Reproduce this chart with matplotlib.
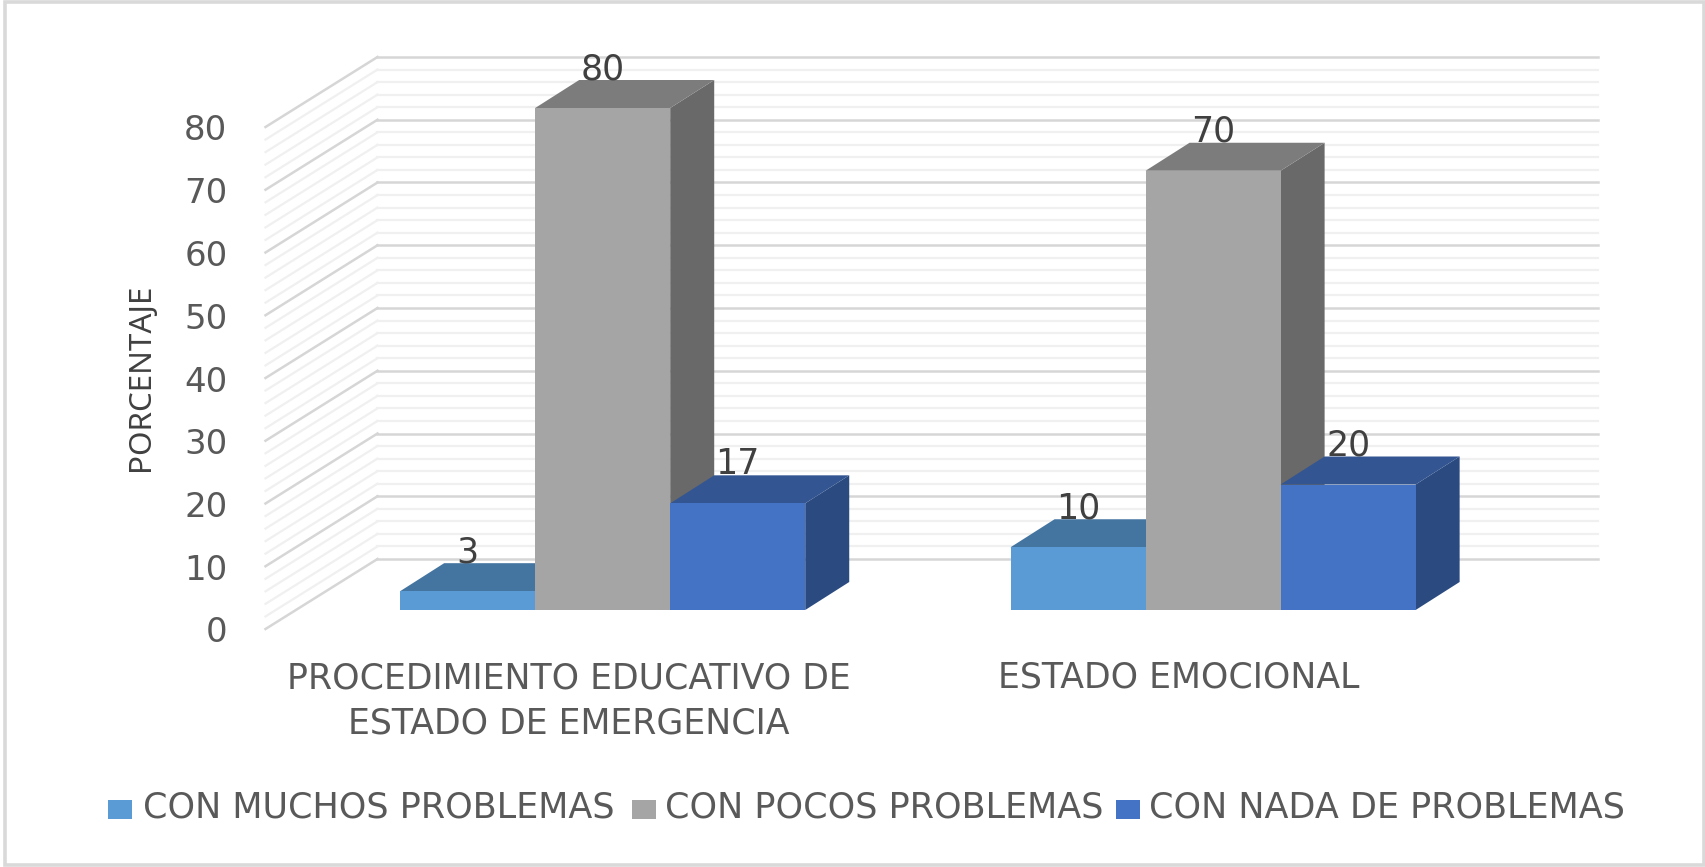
import matplotlib
matplotlib.use("Agg")
import matplotlib.pyplot as plt
from matplotlib.patches import Polygon, Rectangle
from matplotlib.transforms import ScaledTranslation

W, H = 1706, 867
DPI = 100

categories = ["PROCEDIMIENTO EDUCATIVO DE\nESTADO DE EMERGENCIA", "ESTADO EMOCIONAL"]
series_names = ["CON MUCHOS PROBLEMAS", "CON POCOS PROBLEMAS", "CON NADA DE PROBLEMAS"]
muchos = [3, 10]
pocos = [80, 70]
nada = [17, 20]
y_ticks = [0, 10, 20, 30, 40, 50, 60, 70, 80]
y_label = "PORCENTAJE"

front_colors = ["#5B9BD5", "#A5A5A5", "#4472C4"]
top_colors = ["#4475A1", "#7C7C7C", "#335592"]
side_colors = ["#3A6A98", "#696969", "#2A4A80"]
TEXT = "#595959"
FONT = "DejaVu Sans"

fig = plt.figure(figsize=(W / DPI, H / DPI), dpi=DPI, facecolor="white")


def px_x(v):
    return v / W


def px_y(v):
    return 1 - v / H


# Axes rectangle = plane of the front faces of the bars
L, R, T, B = 297.5, 1518.3, 108.0, 610.0
ax = fig.add_axes([px_x(L), px_y(B), (R - L) / W, (B - T) / H])
ax.set_xlim(-0.5, 1.5)
ax.set_ylim(0, 80)
ax.axis("off")


def offset(dx, dy):
    return ax.transData + ScaledTranslation(dx / DPI, dy / DPI, fig.dpi_scale_trans)


# Depth offsets in pixels from the bar plane
back = offset(80, 51)
front_wall = offset(-32, -19)
BAR_DX, BAR_DY = 44, 28

# Gridlines: back wall plus left wall
for v in range(0, 81, 2):
    major = v % 10 == 0
    col, lw, z = ("#D6D6D6", 1.8, 1.2) if major else ("#F0F0F0", 1.6, 1)
    ax.plot([-0.5, 1.5], [v, v], transform=back, color=col, lw=lw, zorder=z, clip_on=False)
    p0 = back.transform((-0.5, v))
    p1 = front_wall.transform((-0.5, v))
    ax.plot([p0[0], p1[0]], [p0[1], p1[1]], transform=None, color=col, lw=lw, zorder=z, clip_on=False)

# Bars, drawn back to front from left to right
bar_w = 0.2212
series = [muchos, pocos, nada]
group_offsets = [-bar_w, 0, bar_w]
dpx = BAR_DX / (R - L) * 2
dpy = BAR_DY / (B - T) * 80
for c in range(len(categories)):
    for s, vals in enumerate(series):
        v = vals[c]
        x0 = c + group_offsets[s] - bar_w / 2
        x1 = x0 + bar_w
        z = 3 + s
        ax.add_patch(Polygon([(x1, 0), (x1 + dpx, dpy), (x1 + dpx, v + dpy), (x1, v)],
                             fc=side_colors[s], ec="none", zorder=z, clip_on=False))
        ax.add_patch(Polygon([(x0, v), (x0 + dpx, v + dpy), (x1 + dpx, v + dpy), (x1, v)],
                             fc=top_colors[s], ec="none", zorder=z, clip_on=False))
        ax.bar(x0, v, width=bar_w, align="edge", color=front_colors[s], zorder=z + 0.1, clip_on=False)
        ax.annotate(str(v), (x0 + bar_w / 2, v), xytext=(0, 39 * 72 / DPI),
                    textcoords="offset points", ha="center", va="center",
                    fontsize=25, color="#404040", family=FONT, zorder=20, annotation_clip=False)

# Y tick labels, at the left of the front wall edge
for t in y_ticks:
    ax.annotate(str(t), (-0.5, t), xycoords=front_wall, xytext=(-38 * 0.72, -4 * 0.72),
                textcoords="offset points", ha="right", va="center",
                fontsize=24.5, color=TEXT, family=FONT, annotation_clip=False)

# Category labels
label_drop = [(701 - 629), (678 - 629)]
for i, cat in enumerate(categories):
    ax.annotate(cat, (i, 0), xycoords=front_wall, xytext=(-2 * 0.72, -label_drop[i] * 0.72),
                textcoords="offset points", ha="center", va="center",
                fontsize=25, color=TEXT, family=FONT, linespacing=1.42,
                annotation_clip=False)

# Axis title
fig.text(px_x(141), px_y(377), y_label, rotation=90, ha="center", va="center",
         fontsize=22.6, color="#404040", family="Noto Sans")

# Legend
legend_sq = [108, 632, 1116]
legend_tx = [143, 665, 1149]
for x, tx, name, col in zip(legend_sq, legend_tx, series_names, front_colors):
    fig.patches.append(Rectangle((px_x(x), px_y(819)), 24 / W, 19 / H, transform=fig.transFigure,
                                 fc=col, ec="none"))
    fig.text(px_x(tx), px_y(807), name, ha="left", va="center", fontsize=25.2,
             color=TEXT, family=FONT)

# Chart frame
fig.patches.append(Rectangle((px_x(5), px_y(865)), 1699 / W, 863 / H, transform=fig.transFigure,
                             fc="none", ec="#D9D9D9", lw=2.6))

fig.savefig("out.png", dpi=DPI, facecolor="white")
